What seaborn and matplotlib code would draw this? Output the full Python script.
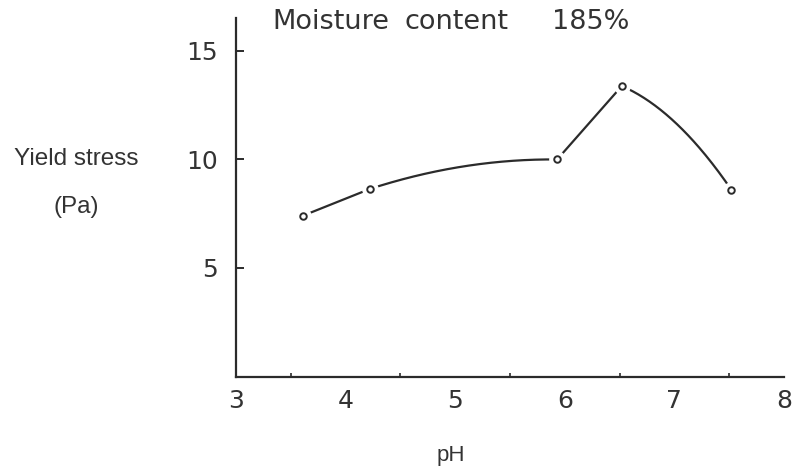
import numpy as np
import pandas as pd
import matplotlib
matplotlib.use("Agg")
import matplotlib.pyplot as plt
import seaborn as sns
from matplotlib.ticker import MultipleLocator

# ---- data ----
ph = [3.61, 4.22, 5.93, 6.52, 7.52]
yield_stress = [7.40, 8.63, 9.99, 13.37, 8.59]
x_ticks = [3, 4, 5, 6, 7, 8]
y_ticks = [5, 10, 15]
title_words = ["Moisture", "content", "185%"]
x_label = "pH"
y_label_1 = "Yield stress"
y_label_2 = "(Pa)"

# style: how far each hand-drawn segment bows above its chord (y units)
segment_bow = [0.0, 0.36, 0.0, 0.65]
title_word_px = [272, 405, 552]

# smooth hand-drawn curve: one quadratic Bezier per segment
xs_all, ys_all = [], []
t = np.linspace(0, 1, 120)
for i in range(len(ph) - 1):
    x0, x1 = ph[i], ph[i + 1]
    y0, y1 = yield_stress[i], yield_stress[i + 1]
    cx = 0.5 * (x0 + x1)
    cy = 0.5 * (y0 + y1) + 2 * segment_bow[i]
    xs_all.append((1 - t) ** 2 * x0 + 2 * (1 - t) * t * cx + t ** 2 * x1)
    ys_all.append((1 - t) ** 2 * y0 + 2 * (1 - t) * t * cy + t ** 2 * y1)
curve = pd.DataFrame({"pH": np.concatenate(xs_all), "ys": np.concatenate(ys_all)})
pts = pd.DataFrame({"pH": ph, "ys": yield_stress})

sns.set_theme(style="white")
plt.rcParams["font.family"] = ["DejaVu Sans"]

ink = "#2b2b2b"
txt = "#333333"
fig = plt.figure(figsize=(7.93, 4.68), dpi=100)
ax = fig.add_axes([0.2976, 0.1955, 0.6911, 0.766])

sns.lineplot(data=curve, x="pH", y="ys", ax=ax, color=ink, lw=1.6, sort=False,
             estimator=None, zorder=2)
# white halos give the gaps around the circles seen in the drawing
ax.plot(ph, yield_stress, ls="none", marker="o", ms=11, mfc="white", mec="white", zorder=3)
sns.scatterplot(data=pts, x="pH", y="ys", ax=ax, s=22, facecolor="white",
                edgecolor=ink, linewidth=1.4, zorder=4)

ax.set_xlim(3, 8)
ax.set_ylim(0, 16.5)
ax.set_xticks(x_ticks)
ax.set_yticks(y_ticks)
ax.xaxis.set_minor_locator(MultipleLocator(0.5))
for s in ["top", "right"]:
    ax.spines[s].set_visible(False)
for s in ["left", "bottom"]:
    ax.spines[s].set_color(ink)
    ax.spines[s].set_linewidth(1.6)
ax.tick_params(axis="both", which="major", direction="in", length=6, width=1.4,
               color=ink, labelsize=18, labelcolor=txt)
ax.tick_params(axis="x", which="major", pad=9)
ax.tick_params(axis="y", which="major", pad=13, left=True)
ax.tick_params(axis="x", which="minor", direction="in", length=3, width=1.2,
               color=ink, bottom=True)
ax.set_xlabel("")
ax.set_ylabel("")

for word, px in zip(title_words, title_word_px):
    fig.text(px / 793, 1 - 22 / 468, word, fontsize=19.5, color=txt,
             ha="left", va="center")
fig.text(451 / 793, 1 - 456 / 468, x_label, fontsize=16, color=txt,
         ha="center", va="center", family="Liberation Sans")
fig.text(14 / 793, 1 - 159 / 468, y_label_1, fontsize=17.5, color=txt,
         ha="left", va="center", family="Liberation Sans")
fig.text(76 / 793, 1 - 207 / 468, y_label_2, fontsize=17.5, color=txt,
         ha="center", va="center", family="Liberation Sans")

fig.savefig("out.png", dpi=100, facecolor="white")
